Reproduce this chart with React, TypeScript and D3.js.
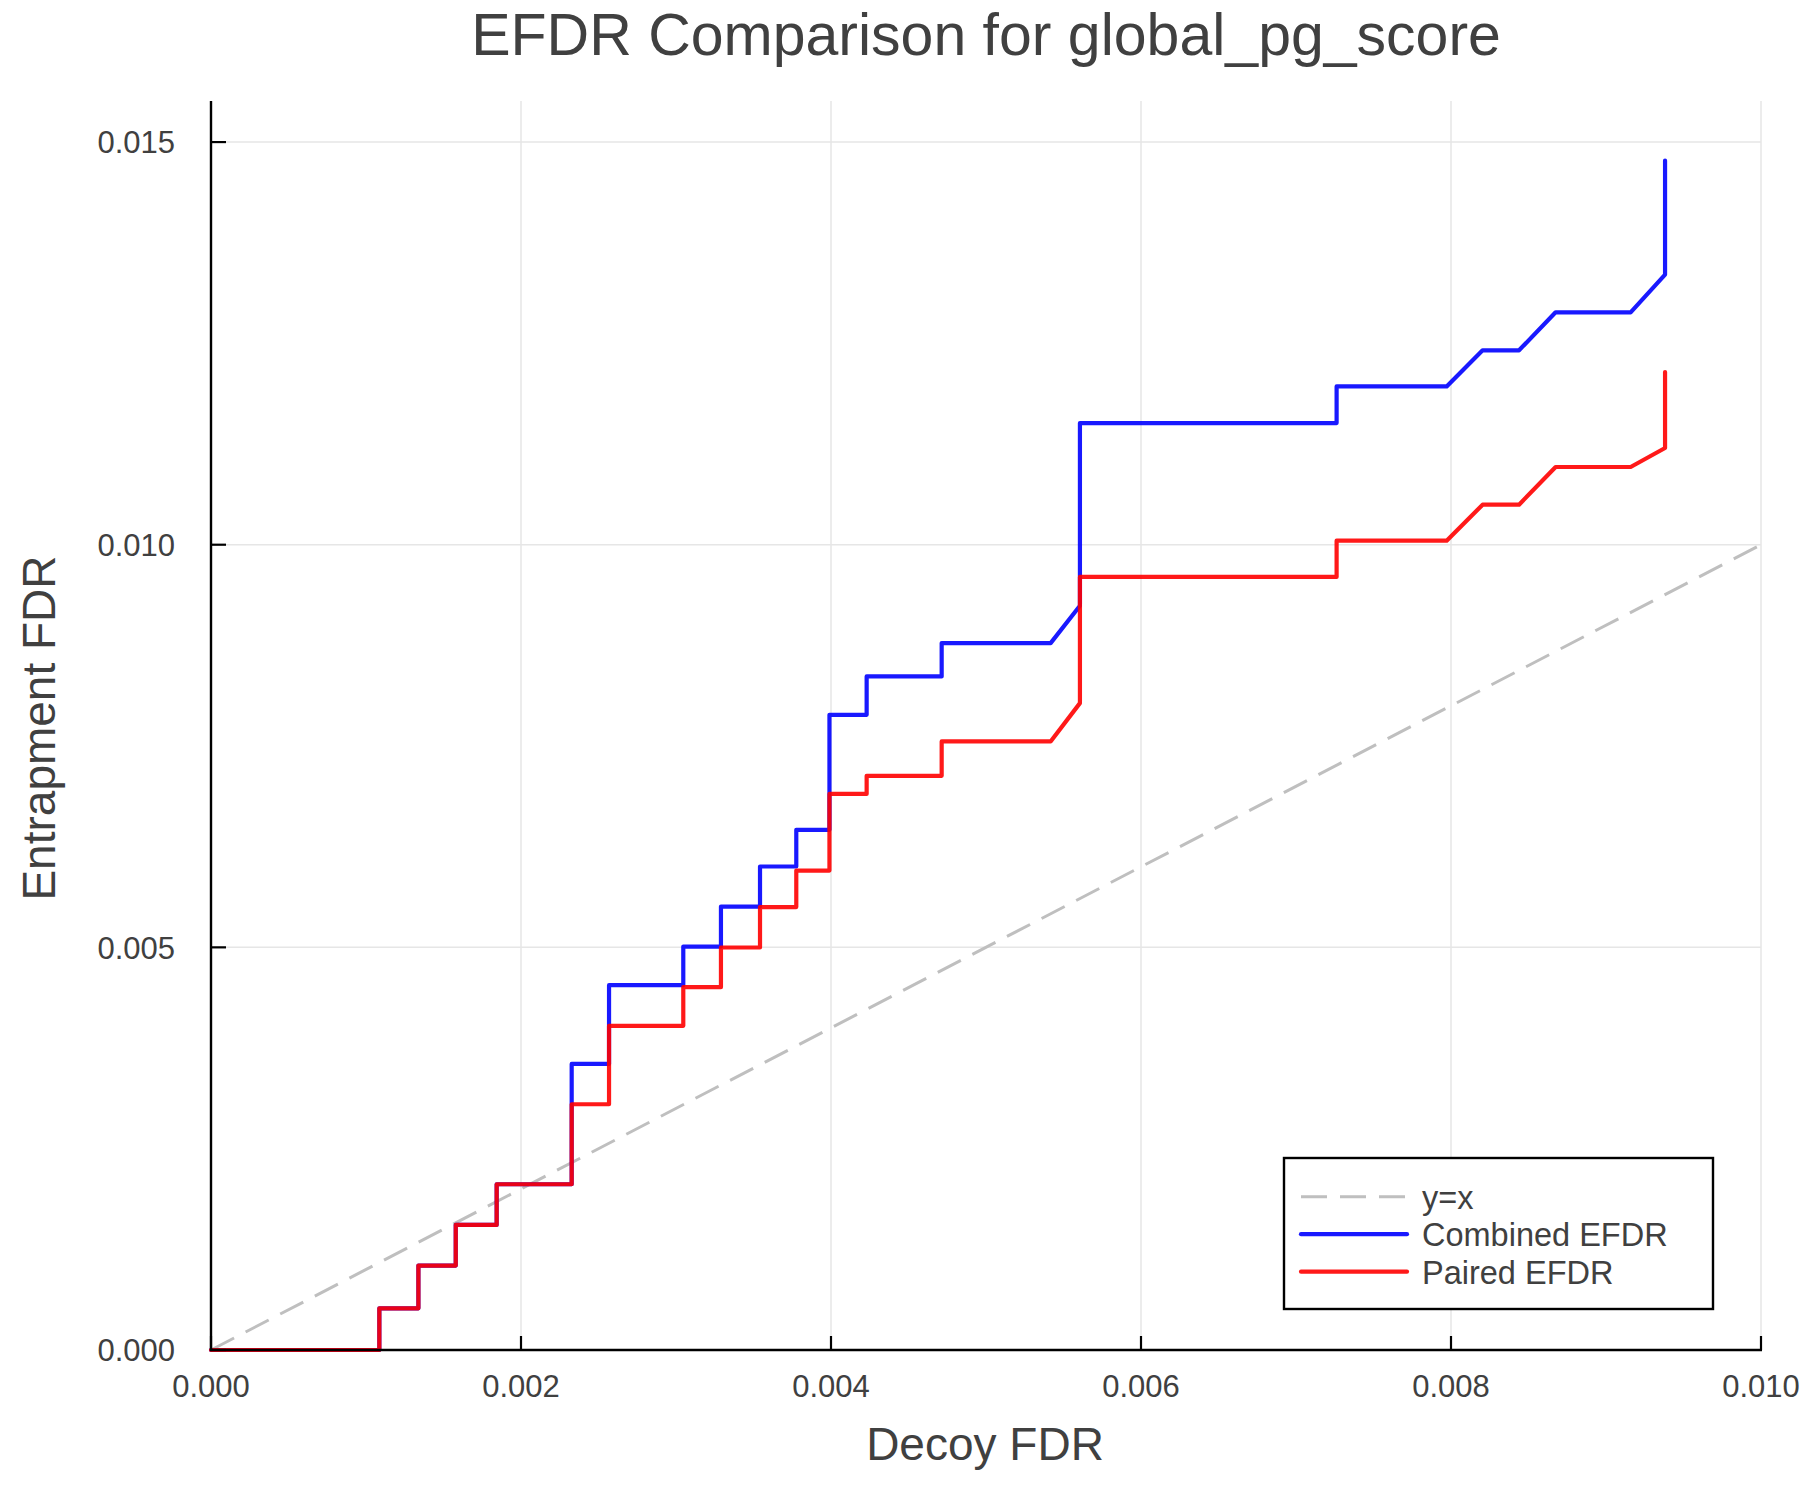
import * as React from "react";
import * as d3 from "d3";

// decoy FDR (x) and entrapment FDR (y) for each curve
const combinedX = [
  0, 0.001086, 0.001086, 0.001338, 0.001338, 0.001579, 0.001579, 0.001843, 0.001843,
  0.002327, 0.002327, 0.002568, 0.002568, 0.003047, 0.003047, 0.00329, 0.00329,
  0.003542, 0.003542, 0.003776, 0.003776, 0.00399, 0.00399, 0.00423, 0.00423,
  0.004714, 0.004714, 0.005417, 0.005606, 0.005606, 0.007262, 0.007262, 0.007972,
  0.008204, 0.008439, 0.008675, 0.009159, 0.009381, 0.009381,
];
const combinedY = [
  0, 0, 0.000518, 0.000518, 0.001048, 0.001048, 0.001553, 0.001553, 0.002058,
  0.002058, 0.003553, 0.003553, 0.00453, 0.00453, 0.00501, 0.00501, 0.005507,
  0.005507, 0.006004, 0.006004, 0.00646, 0.00646, 0.007888, 0.007888, 0.008364,
  0.008364, 0.008778, 0.008778, 0.009242, 0.011511, 0.011511, 0.011966, 0.011966,
  0.012414, 0.012414, 0.012886, 0.012886, 0.013354, 0.01477,
];

const pairedX = [
  0, 0.001086, 0.001086, 0.001338, 0.001338, 0.001579, 0.001579, 0.001843, 0.001843,
  0.002327, 0.002327, 0.002568, 0.002568, 0.003047, 0.003047, 0.00329, 0.00329,
  0.003542, 0.003542, 0.003776, 0.003776, 0.00399, 0.00399, 0.00423, 0.00423,
  0.004714, 0.004714, 0.005417, 0.005606, 0.005606, 0.007262, 0.007262, 0.007972,
  0.008204, 0.008439, 0.008675, 0.009159, 0.009381, 0.009381,
];
const pairedY = [
  0, 0, 0.000518, 0.000518, 0.001048, 0.001048, 0.001553, 0.001553, 0.002058,
  0.002058, 0.003052, 0.003052, 0.004025, 0.004025, 0.004506, 0.004506, 0.004998,
  0.004998, 0.0055, 0.0055, 0.005954, 0.005954, 0.006905, 0.006905, 0.00713,
  0.00713, 0.007557, 0.007557, 0.008033, 0.0096, 0.0096, 0.01005, 0.01005,
  0.010497, 0.010497, 0.010965, 0.010965, 0.011201, 0.012145,
];

const diagonal = [0, 0.01];

const xTicks = [0, 0.002, 0.004, 0.006, 0.008, 0.01];
const yTicks = [0, 0.005, 0.01, 0.015];

const legendItems = [
  { label: "y=x", color: "#bfbfbf", dash: "26 13", opacity: 1 },
  { label: "Combined EFDR", color: "#0000ff", dash: undefined, opacity: 0.9 },
  { label: "Paired EFDR", color: "#ff0000", dash: undefined, opacity: 0.9 },
];

const FONT = "'Liberation Sans', Helvetica, Arial, sans-serif";
const TEXT = "#404040";

export default function App() {
  const width = 1800;
  const height = 1500;
  const left = 211;
  const right = 1761;
  const top = 101;
  const bottom = 1350;

  const x = d3.scaleLinear().domain([0, 0.01]).range([left, right]);
  const y = d3.scaleLinear().domain([0, 0.01551]).range([bottom, top]);

  const line = d3
    .line<[number, number]>()
    .x((d) => x(d[0]))
    .y((d) => y(d[1]));

  const combined = combinedX.map((v, i) => [v, combinedY[i]] as [number, number]);
  const paired = pairedX.map((v, i) => [v, pairedY[i]] as [number, number]);
  const ident = diagonal.map((v) => [v, v] as [number, number]);

  const fmt = d3.format(".3f");

  const lgX = 1284;
  const lgY = 1158;
  const lgW = 429;
  const lgH = 151;

  return (
    <svg
      width={width}
      height={height}
      style={{ position: "absolute", left: 0, top: 0, background: "#fff" }}
      fontFamily={FONT}
    >
      <rect width={width} height={height} fill="#fff" />

      <text x={986} y={55} textAnchor="middle" fontSize={59} fill={TEXT}>
        EFDR Comparison for global_pg_score
      </text>

      {/* grid */}
      {xTicks.map((t) => (
        <line key={`gx${t}`} x1={x(t)} x2={x(t)} y1={top} y2={bottom} stroke="#e6e6e6" strokeWidth={1.5} />
      ))}
      {yTicks.map((t) => (
        <line key={`gy${t}`} x1={left} x2={right} y1={y(t)} y2={y(t)} stroke="#e6e6e6" strokeWidth={1.5} />
      ))}

      {/* series */}
      <path d={line(ident) ?? undefined} fill="none" stroke="#bfbfbf" strokeWidth={3} strokeDasharray="26 13" />
      <path
        d={line(combined) ?? undefined}
        fill="none"
        stroke="#0000ff"
        strokeOpacity={0.9}
        strokeWidth={4.2}
        strokeLinejoin="round"
        strokeLinecap="round"
      />
      <path
        d={line(paired) ?? undefined}
        fill="none"
        stroke="#ff0000"
        strokeOpacity={0.9}
        strokeWidth={4.2}
        strokeLinejoin="round"
        strokeLinecap="round"
      />

      {/* axes */}
      <line x1={left} x2={left} y1={top} y2={bottom + 1} stroke="#000" strokeWidth={2.4} />
      <line x1={left - 1} x2={right + 1} y1={bottom} y2={bottom} stroke="#000" strokeWidth={2.4} />
      {xTicks.map((t) => (
        <g key={`tx${t}`}>
          <line x1={x(t)} x2={x(t)} y1={bottom} y2={bottom - 14} stroke="#000" strokeWidth={2.2} />
          <text x={x(t)} y={1397} textAnchor="middle" fontSize={31} fill={TEXT}>
            {fmt(t)}
          </text>
        </g>
      ))}
      {yTicks.map((t) => (
        <g key={`ty${t}`}>
          <line x1={left} x2={left + 15} y1={y(t)} y2={y(t)} stroke="#000" strokeWidth={2.2} />
          <text x={175} y={y(t)} dy="0.36em" textAnchor="end" fontSize={31} fill={TEXT}>
            {fmt(t)}
          </text>
        </g>
      ))}

      <text x={985} y={1460} textAnchor="middle" fontSize={46} fill={TEXT}>
        Decoy FDR
      </text>
      <text
        transform={`translate(55,728) rotate(-90)`}
        textAnchor="middle"
        fontSize={46}
        fill={TEXT}
      >
        Entrapment FDR
      </text>

      {/* legend */}
      <rect x={lgX} y={lgY} width={lgW} height={lgH} fill="#fff" stroke="#000" strokeWidth={2.4} />
      {legendItems.map((item, i) => {
        const rowY = 1196.7 + i * 37.5;
        return (
          <g key={item.label}>
            <line
              x1={1301}
              x2={1407}
              y1={rowY}
              y2={rowY}
              stroke={item.color}
              strokeOpacity={item.opacity}
              strokeWidth={item.dash ? 3 : 4.2}
              strokeDasharray={item.dash}
              strokeLinecap={item.dash ? "butt" : "round"}
            />
            <text x={1422} y={rowY + 12} fontSize={32.5} fill={TEXT}>
              {item.label}
            </text>
          </g>
        );
      })}
    </svg>
  );
}
